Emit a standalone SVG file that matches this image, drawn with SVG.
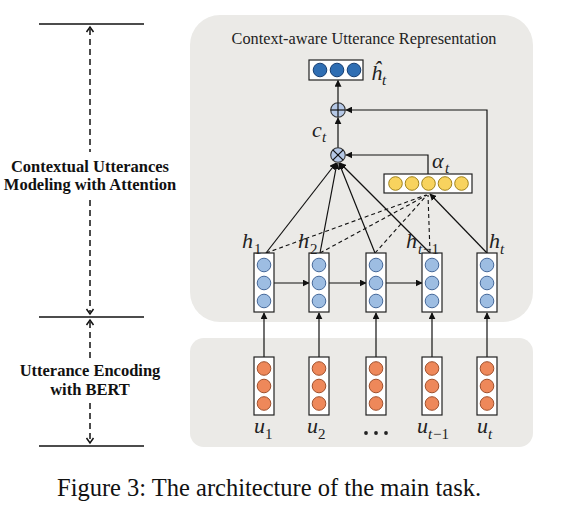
<svg xmlns="http://www.w3.org/2000/svg" width="562" height="521" viewBox="0 0 562 521">
<style>
.panel{fill:#ebeae7;stroke:none}
.box{fill:#fff;stroke:#222;stroke-width:1.2}
.cb{fill:#9dbde2;stroke:#46699a;stroke-width:1}
.co{fill:#ee885a;stroke:#a0502c;stroke-width:1}
.cy{fill:#f8d35e;stroke:#a0821a;stroke-width:1}
.cd{fill:#2f6eb3;stroke:#173f73;stroke-width:1}
.op{fill:#b5c8e6;stroke:#333;stroke-width:1.1}
.ln{fill:none;stroke:#111;stroke-width:1.2}
.dl{fill:none;stroke:#111;stroke-width:1.1;stroke-dasharray:4 3}
.hr{stroke:#111;stroke-width:1.5}
.ld{fill:none;stroke:#111;stroke-width:1.5;stroke-dasharray:6 4}
.ch{fill:none;stroke:#111;stroke-width:1.5}
.lbl{font-family:"Liberation Serif",serif;font-weight:bold;font-size:16.5px;fill:#111;text-anchor:middle}
.ttl{font-family:"Liberation Serif",serif;font-size:16.3px;fill:#222;text-anchor:middle}
.m{font-family:"Liberation Serif",serif;font-style:italic;font-size:22px;fill:#222}
.s{font-family:"Liberation Serif",serif;font-size:15px;fill:#222}
.si{font-family:"Liberation Serif",serif;font-style:italic;font-size:15px;fill:#222}
.cap{font-family:"Liberation Serif",serif;font-size:24.5px;fill:#111}
</style>
<defs>
<marker id="ah" viewBox="0 0 10 10" refX="9" refY="5" markerWidth="7" markerHeight="7" markerUnits="userSpaceOnUse" orient="auto">
<path d="M0,0 L10,5 L0,10 z" fill="#111"/>
</marker>
</defs>

<!-- left annotation -->
<g id="left-annotation">
<line class="hr" x1="39" y1="24" x2="144" y2="24"/>
<line class="hr" x1="39" y1="317" x2="144" y2="317"/>
<line class="hr" x1="39" y1="446" x2="144" y2="446"/>
<line class="ld" x1="90" y1="29" x2="90" y2="152"/>
<path class="ch" d="M86.5,32 L90,27 L93.5,32"/>
<line class="ld" x1="90" y1="200" x2="90" y2="312"/>
<path class="ch" d="M86.5,309 L90,314 L93.5,309"/>
<line class="ld" x1="90" y1="322" x2="90" y2="358"/>
<path class="ch" d="M86.5,325 L90,320 L93.5,325"/>
<line class="ld" x1="90" y1="403" x2="90" y2="441"/>
<path class="ch" d="M86.5,438 L90,443 L93.5,438"/>
<text class="lbl" x="90" y="172">Contextual Utterances</text>
<text class="lbl" x="90" y="190">Modeling with Attention</text>
<text class="lbl" x="90" y="376">Utterance Encoding</text>
<text class="lbl" x="90" y="395">with BERT</text>
</g>

<!-- panels -->
<g id="panel-context">
<rect class="panel" x="190" y="15" width="343" height="307" rx="30"/>
<text class="ttl" x="364" y="44">Context-aware Utterance Representation</text>
</g>
<g id="panel-encoding">
<rect class="panel" x="190" y="338" width="343" height="109" rx="14"/>
</g>

<!-- connectors -->
<g id="connectors">
<line class="ln" x1="264" y1="357" x2="264" y2="313" marker-end="url(#ah)"/>
<line class="ln" x1="319" y1="357" x2="319" y2="313" marker-end="url(#ah)"/>
<line class="ln" x1="376" y1="357" x2="376" y2="313" marker-end="url(#ah)"/>
<line class="ln" x1="432" y1="357" x2="432" y2="313" marker-end="url(#ah)"/>
<line class="ln" x1="487" y1="357" x2="487" y2="313" marker-end="url(#ah)"/>
<line class="ln" x1="274" y1="283" x2="309" y2="283" marker-end="url(#ah)"/>
<line class="ln" x1="329" y1="283" x2="366" y2="283" marker-end="url(#ah)"/>
<line class="ln" x1="386" y1="283" x2="422" y2="283" marker-end="url(#ah)"/>
<line class="ln" x1="266" y1="253" x2="336" y2="163" marker-end="url(#ah)"/>
<line class="ln" x1="320" y1="253" x2="337" y2="163" marker-end="url(#ah)"/>
<line class="ln" x1="375" y1="253" x2="339" y2="163" marker-end="url(#ah)"/>
<line class="ln" x1="430" y1="253" x2="340" y2="163" marker-end="url(#ah)"/>
<line class="dl" x1="266" y1="253" x2="426" y2="195"/>
<line class="dl" x1="320" y1="253" x2="427" y2="195"/>
<line class="dl" x1="375" y1="253" x2="427" y2="195"/>
<line class="dl" x1="430" y1="253" x2="428" y2="195"/>
<line class="ln" x1="487" y1="253" x2="430" y2="194" marker-end="url(#ah)"/>
<polyline class="ln" points="487,253 487,110 346,110" marker-end="url(#ah)"/>
<polyline class="ln" points="428,174 428,155 346,155" marker-end="url(#ah)"/>
<line class="ln" x1="338" y1="148" x2="338" y2="118" marker-end="url(#ah)"/>
<line class="ln" x1="338" y1="103" x2="338" y2="80.5" marker-end="url(#ah)"/>
</g>

<!-- output representation -->
<g id="h-hat">
<rect class="box" x="309" y="60" width="54" height="20"/>
<circle class="cd" cx="320" cy="70" r="6.8"/>
<circle class="cd" cx="337" cy="70" r="6.8"/>
<circle class="cd" cx="354" cy="70" r="6.8"/>
<text class="m" x="371" y="80">ĥ</text>
<text class="si" x="382" y="85">t</text>
</g>

<g id="plus">
<circle class="op" cx="338" cy="110" r="7.3"/>
<line class="ln" x1="330.7" y1="110" x2="345.3" y2="110"/>
<line class="ln" x1="338" y1="102.7" x2="338" y2="117.3"/>
</g>
<g id="c-label">
<text class="m" x="312" y="137">c</text>
<text class="si" x="322" y="142">t</text>
</g>

<g id="otimes">
<circle class="op" cx="338" cy="155" r="7.3"/>
<line class="ln" x1="332.8" y1="149.8" x2="343.2" y2="160.2"/>
<line class="ln" x1="343.2" y1="149.8" x2="332.8" y2="160.2"/>
</g>

<g id="alpha">
<rect class="box" x="384" y="174" width="88" height="19"/>
<circle class="cy" cx="395.5" cy="183.5" r="6.8"/>
<circle class="cy" cx="412" cy="183.5" r="6.8"/>
<circle class="cy" cx="428.5" cy="183.5" r="6.8"/>
<circle class="cy" cx="445" cy="183.5" r="6.8"/>
<circle class="cy" cx="461.5" cy="183.5" r="6.8"/>
<text class="m" x="432" y="168">α</text>
<text class="si" x="445" y="173">t</text>
</g>

<!-- hidden states -->
<g id="h1">
<rect class="box" x="254" y="253" width="20" height="59"/>
<circle class="cb" cx="264" cy="265" r="6.8"/>
<circle class="cb" cx="264" cy="283" r="6.8"/>
<circle class="cb" cx="264" cy="301" r="6.8"/>
<text class="m" x="242" y="248">h</text>
<text class="s" x="254" y="254">1</text>
</g>
<g id="h2">
<rect class="box" x="309" y="253" width="20" height="59"/>
<circle class="cb" cx="319" cy="265" r="6.8"/>
<circle class="cb" cx="319" cy="283" r="6.8"/>
<circle class="cb" cx="319" cy="301" r="6.8"/>
<text class="m" x="298" y="248">h</text>
<text class="s" x="310" y="254">2</text>
</g>
<g id="h3">
<rect class="box" x="366" y="253" width="20" height="59"/>
<circle class="cb" cx="376" cy="265" r="6.8"/>
<circle class="cb" cx="376" cy="283" r="6.8"/>
<circle class="cb" cx="376" cy="301" r="6.8"/>
</g>
<g id="h-t-1">
<rect class="box" x="422" y="253" width="20" height="59"/>
<circle class="cb" cx="432" cy="265" r="6.8"/>
<circle class="cb" cx="432" cy="283" r="6.8"/>
<circle class="cb" cx="432" cy="301" r="6.8"/>
<text class="m" x="406" y="248">h</text>
<text class="si" x="418" y="254">t</text>
<text class="s" x="423" y="254">−1</text>
</g>
<g id="h-t">
<rect class="box" x="477" y="253" width="20" height="59"/>
<circle class="cb" cx="487" cy="265" r="6.8"/>
<circle class="cb" cx="487" cy="283" r="6.8"/>
<circle class="cb" cx="487" cy="301" r="6.8"/>
<text class="m" x="489" y="248">h</text>
<text class="si" x="500" y="254">t</text>
</g>

<!-- utterance encodings -->
<g id="u1">
<rect class="box" x="254" y="357" width="20" height="58"/>
<circle class="co" cx="264" cy="368.5" r="6.8"/>
<circle class="co" cx="264" cy="386" r="6.8"/>
<circle class="co" cx="264" cy="403.5" r="6.8"/>
<text class="m" x="254" y="433">u</text>
<text class="s" x="265" y="439">1</text>
</g>
<g id="u2">
<rect class="box" x="309" y="357" width="20" height="58"/>
<circle class="co" cx="319" cy="368.5" r="6.8"/>
<circle class="co" cx="319" cy="386" r="6.8"/>
<circle class="co" cx="319" cy="403.5" r="6.8"/>
<text class="m" x="307" y="433">u</text>
<text class="s" x="318" y="439">2</text>
</g>
<g id="u-dots">
<rect class="box" x="366" y="357" width="20" height="58"/>
<circle class="co" cx="376" cy="368.5" r="6.8"/>
<circle class="co" cx="376" cy="386" r="6.8"/>
<circle class="co" cx="376" cy="403.5" r="6.8"/>
<circle cx="366" cy="433" r="1.9" fill="#222"/>
<circle cx="376" cy="433" r="1.9" fill="#222"/>
<circle cx="386" cy="433" r="1.9" fill="#222"/>
</g>
<g id="u-t-1">
<rect class="box" x="422" y="357" width="20" height="58"/>
<circle class="co" cx="432" cy="368.5" r="6.8"/>
<circle class="co" cx="432" cy="386" r="6.8"/>
<circle class="co" cx="432" cy="403.5" r="6.8"/>
<text class="m" x="417" y="433">u</text>
<text class="si" x="428" y="439">t</text>
<text class="s" x="433" y="439">−1</text>
</g>
<g id="u-t">
<rect class="box" x="477" y="357" width="20" height="58"/>
<circle class="co" cx="487" cy="368.5" r="6.8"/>
<circle class="co" cx="487" cy="386" r="6.8"/>
<circle class="co" cx="487" cy="403.5" r="6.8"/>
<text class="m" x="477" y="433">u</text>
<text class="si" x="488" y="439">t</text>
</g>

<text class="cap" x="57" y="496">Figure 3: The architecture of the main task.</text>
</svg>
